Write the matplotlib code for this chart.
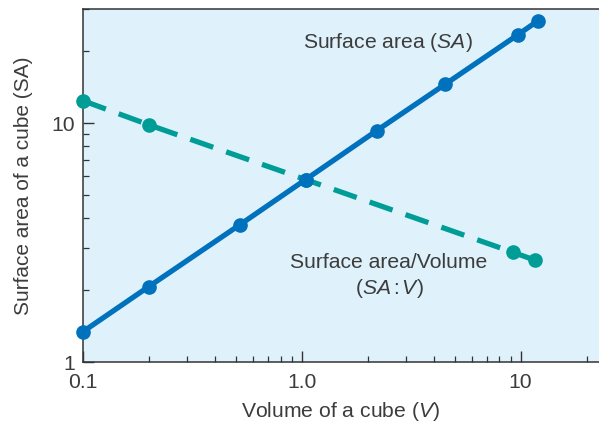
import matplotlib
matplotlib.use("Agg")
import matplotlib.pyplot as plt
from matplotlib.ticker import LogLocator, FixedLocator, NullFormatter

plt.rcParams['font.family'] = ['Liberation Sans', 'DejaVu Sans']
plt.rcParams['mathtext.fontset'] = 'custom'
plt.rcParams['mathtext.rm'] = 'Liberation Sans'
plt.rcParams['mathtext.it'] = 'Liberation Sans:italic'

# Data
sa_volume = [0.1, 0.2, 0.52, 1.04, 2.2, 4.5, 9.7, 12.0]
sa_values = [1.34, 2.07, 3.75, 5.8, 9.3, 14.5, 23.4, 26.8]
ratio_volume = [0.1, 0.2, 1.04, 9.2, 11.6]
ratio_values = [12.4, 9.83, 5.8, 2.88, 2.67]

x_ticks = [0.1, 1.0, 10]
x_ticklabels = ["0.1", "1.0", "10"]
y_ticks = [1, 10]
y_ticklabels = ["1", "10"]

blue = "#0071bc"
teal = "#009d96"
bg = "#dff1fb"
txt = "#3c3c3c"
fs = 15.2

fig = plt.figure(figsize=(5.99, 4.24), dpi=100)
ax = fig.add_axes([0.1386, 0.1462, 0.8614, 0.8325])
ax.set_facecolor(bg)
ax.set_xscale('log')
ax.set_yscale('log')
ax.set_xlim(0.1, 22.8)
ax.set_ylim(1, 30)

ax.plot(ratio_volume, ratio_values, color=teal, lw=3.8, ls=(0, (4.6, 2.6)),
        marker='o', ms=9.5, clip_on=False, zorder=3)
ax.plot(sa_volume, sa_values, color=blue, lw=3.8, marker='o', ms=9.5,
        clip_on=False, zorder=4)

ax.xaxis.set_major_locator(FixedLocator(x_ticks))
ax.set_xticklabels(x_ticklabels)
ax.yaxis.set_major_locator(FixedLocator(y_ticks))
ax.set_yticklabels(y_ticklabels)
ax.xaxis.set_minor_locator(LogLocator(base=10, subs=range(2, 10)))
ax.yaxis.set_minor_locator(LogLocator(base=10, subs=range(2, 10)))
ax.xaxis.set_minor_formatter(NullFormatter())
ax.yaxis.set_minor_formatter(NullFormatter())

ax.tick_params(which='major', direction='in', length=8, width=1.0,
               colors='#333333', labelsize=fs, labelcolor=txt)
ax.tick_params(which='minor', direction='in', length=4.5, width=0.9,
               colors='#333333')
ax.tick_params(axis='y', which='major', pad=6)
ax.tick_params(axis='x', which='major', pad=8)

for s in ['left', 'bottom', 'top']:
    ax.spines[s].set_color('#333333')
    ax.spines[s].set_linewidth(1.1)
ax.spines['right'].set_visible(False)

ax.set_xlabel(r"Volume of a cube ($\mathit{V}$)", fontsize=fs, color=txt, labelpad=6)
ax.set_ylabel("Surface area of a cube (SA)", fontsize=15, color=txt, labelpad=13)

ax.text(2.48, 21.7, r"Surface area ($\mathit{SA}$)", fontsize=fs, color=txt,
        ha='center', va='center')
ax.text(2.5, 2.62, "Surface area/Volume", fontsize=fs, color=txt,
        ha='center', va='center')
ax.text(2.5, 2.04, r"($\mathit{SA}\,$:$\,\mathit{V}$)", fontsize=fs, color=txt,
        ha='center', va='center')

fig.savefig("out.png", dpi=100)
